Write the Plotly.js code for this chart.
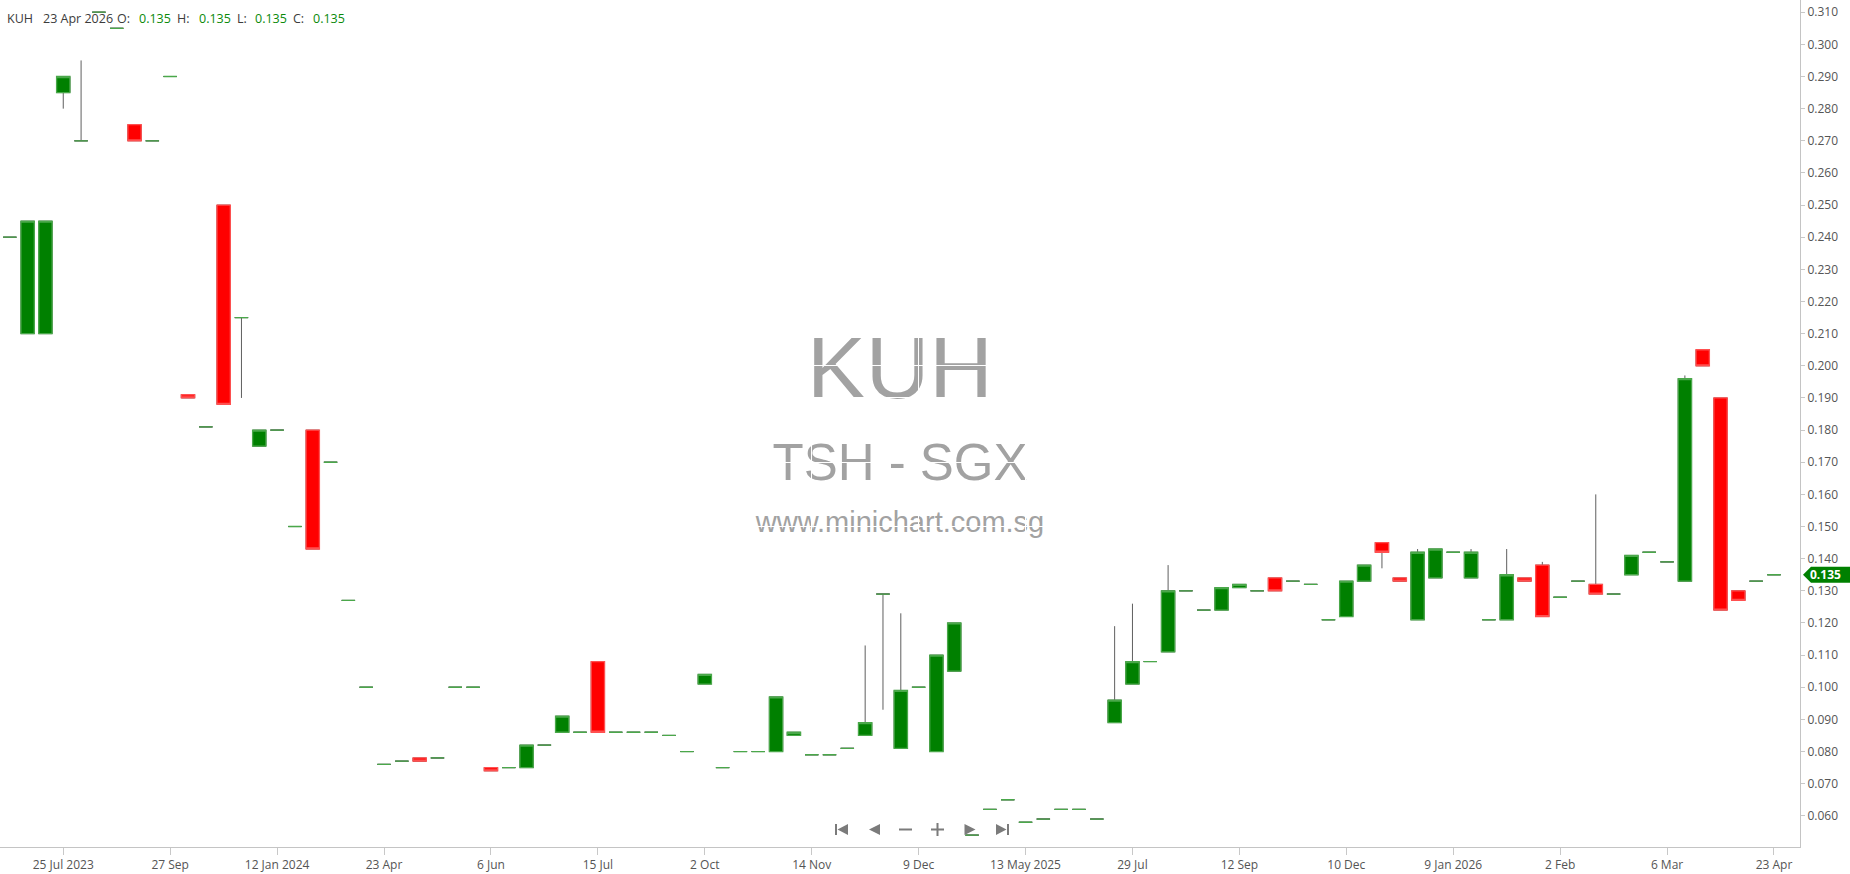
<!DOCTYPE html>
<html>
<head>
<meta charset="utf-8">
<script src="https://cdn.plot.ly/plotly-3.0.1.min.js"></script>
<style>
html,body{margin:0;padding:0;background:#fff;}
#chart{width:1850px;height:874px;}
</style>
</head>
<body>
<div id="chart"></div>
<script>
// ---------------- data ----------------
const symbol = 'KUH';
const exchangeLabel = 'TSH - SGX';
const siteLabel = 'www.minichart.com.sg';
const lastDate = '23 Apr 2026';

const tickLabels = ['25 Jul 2023','27 Sep','12 Jan 2024','23 Apr','6 Jun','15 Jul','2 Oct','14 Nov','9 Dec',
  '13 May 2025','29 Jul','12 Sep','10 Dec','9 Jan 2026','2 Feb','6 Mar','23 Apr'];

const open = [0.240,0.210,0.210,0.285,0.270,0.310,0.305,0.275,0.270,0.290,
  0.191,0.181,0.250,0.215,0.175,0.180,0.150,0.180,0.170,0.127,
  0.100,0.076,0.077,0.078,0.078,0.100,0.100,0.075,0.075,0.075,
  0.082,0.086,0.086,0.108,0.086,0.086,0.086,0.085,0.080,0.101,
  0.075,0.080,0.080,0.080,0.085,0.079,0.079,0.081,0.085,0.129,
  0.081,0.100,0.080,0.105,0.054,0.062,0.065,0.058,0.059,0.062,
  0.062,0.059,0.089,0.101,0.108,0.111,0.130,0.124,0.124,0.131,
  0.130,0.134,0.133,0.132,0.121,0.122,0.133,0.145,0.134,0.121,
  0.134,0.142,0.134,0.121,0.121,0.134,0.138,0.128,0.133,0.132,
  0.129,0.135,0.142,0.139,0.133,0.205,0.190,0.130,0.133,0.135];
const high = [0.240,0.245,0.245,0.290,0.295,0.310,0.305,0.275,0.270,0.290,
  0.191,0.181,0.250,0.215,0.180,0.180,0.150,0.180,0.170,0.127,
  0.100,0.076,0.077,0.078,0.078,0.100,0.100,0.075,0.075,0.082,
  0.082,0.091,0.086,0.108,0.086,0.086,0.086,0.085,0.080,0.104,
  0.075,0.080,0.080,0.097,0.086,0.079,0.079,0.081,0.113,0.129,
  0.123,0.100,0.110,0.120,0.054,0.062,0.065,0.058,0.059,0.062,
  0.062,0.059,0.119,0.126,0.108,0.138,0.130,0.124,0.131,0.132,
  0.130,0.134,0.133,0.132,0.121,0.133,0.138,0.145,0.134,0.143,
  0.143,0.142,0.143,0.121,0.143,0.134,0.139,0.128,0.133,0.160,
  0.129,0.141,0.142,0.139,0.197,0.205,0.190,0.130,0.133,0.135];
const low = [0.240,0.210,0.210,0.280,0.270,0.310,0.305,0.270,0.270,0.290,
  0.190,0.181,0.188,0.190,0.175,0.180,0.150,0.143,0.170,0.127,
  0.100,0.076,0.077,0.077,0.078,0.100,0.100,0.074,0.075,0.075,
  0.082,0.086,0.086,0.086,0.086,0.086,0.086,0.085,0.080,0.101,
  0.075,0.080,0.080,0.080,0.085,0.079,0.079,0.081,0.085,0.093,
  0.081,0.100,0.080,0.105,0.054,0.062,0.065,0.058,0.059,0.062,
  0.062,0.059,0.089,0.101,0.108,0.111,0.130,0.124,0.124,0.131,
  0.130,0.130,0.133,0.132,0.121,0.122,0.133,0.137,0.133,0.121,
  0.134,0.142,0.134,0.121,0.121,0.133,0.122,0.128,0.133,0.129,
  0.129,0.135,0.142,0.139,0.133,0.200,0.124,0.127,0.133,0.135];
const close = [0.240,0.245,0.245,0.290,0.270,0.310,0.305,0.270,0.270,0.290,
  0.190,0.181,0.188,0.215,0.180,0.180,0.150,0.143,0.170,0.127,
  0.100,0.076,0.077,0.077,0.078,0.100,0.100,0.074,0.075,0.082,
  0.082,0.091,0.086,0.086,0.086,0.086,0.086,0.085,0.080,0.104,
  0.075,0.080,0.080,0.097,0.086,0.079,0.079,0.081,0.089,0.129,
  0.099,0.100,0.110,0.120,0.054,0.062,0.065,0.058,0.059,0.062,
  0.062,0.059,0.096,0.108,0.108,0.130,0.130,0.124,0.131,0.132,
  0.130,0.130,0.133,0.132,0.121,0.133,0.138,0.142,0.133,0.142,
  0.143,0.142,0.142,0.121,0.135,0.133,0.122,0.128,0.133,0.129,
  0.129,0.141,0.142,0.139,0.196,0.200,0.124,0.127,0.133,0.135];

// ---------------- build ----------------
const idx = open.map((_, i) => i);
const upIdx = idx.filter(i => close[i] >= open[i]);
const dnIdx = idx.filter(i => close[i] < open[i]);
const pick = (arr, ids) => ids.map(i => arr[i]);
const bodyTop = idx.map(i => Math.max(open[i], close[i]));
const bodyBot = idx.map(i => Math.min(open[i], close[i]));
const last = idx.length - 1;
const fmt = v => v.toFixed(3);

const GREEN = '#008000', RED = '#ff0000';

function styleBoth(lineColor, fill, w) {
  const s = {line: {color: lineColor, width: w}, fillcolor: fill};
  return {increasing: s, decreasing: JSON.parse(JSON.stringify(s))};
}

const wickTrace = Object.assign({
  type: 'candlestick', x: idx, open: open, high: high, low: low, close: close,
  whiskerwidth: 0, hoverinfo: 'skip', showlegend: false, name: 'wick'
}, styleBoth('#5f5f5f', '#5f5f5f', 1));

function bodyTrace(ids, fill, edge, name) {
  return Object.assign({
    type: 'candlestick', x: ids,
    open: pick(open, ids), high: pick(bodyTop, ids), low: pick(bodyBot, ids), close: pick(close, ids),
    whiskerwidth: 0, showlegend: false, name: name
  }, styleBoth(edge, fill, 1.3));
}

const traces = [
  wickTrace,
  bodyTrace(upIdx, GREEN, '#4aa84a', 'up'),
  bodyTrace(dnIdx, RED, '#ff5050', 'down')
];

const PLOT_W = 1800, PLOT_H = 847;
const px2x = p => p / PLOT_W;
const px2y = p => 1 - p / PLOT_H;

const tickFont = {family: 'Open Sans, Noto Sans, sans-serif', size: 12, color: '#555555'};

// watermark as shape labels below the (white) grid
function wm(text, size, cy, h) {
  return {
    type: 'rect', xref: 'paper', yref: 'paper', layer: 'below',
    x0: 0, x1: 1, y0: px2y(cy + h / 2), y1: px2y(cy - h / 2),
    line: {width: 0}, fillcolor: 'rgba(0,0,0,0)',
    label: {text: text, textposition: 'middle center',
      font: {family: 'Liberation Sans, Arial, sans-serif', size: size, color: '#a2a2a2'}}
  };
}

// navigation icons (decoration)
const NAV_Y = 829.5, NAV_C = '#7b7b7b';
function navIcon(cx, path) {
  return {type: 'path', xref: 'paper', yref: 'paper', xsizemode: 'pixel', ysizemode: 'pixel',
    xanchor: px2x(cx), yanchor: px2y(NAV_Y), path: path, fillcolor: NAV_C, line: {width: 0}, layer: 'above'};
}
const shapes = [
  wm(symbol, 88, 359.5, 110),
  wm(exchangeLabel, 51, 457.5, 70),
  wm(siteLabel, 29, 518.5, 44),
  navIcon(842, 'M -7,-5.5 L -5,-5.5 L -5,5.5 L -7,5.5 Z M -4.5,0 L 6,5.5 L 6,-5.5 Z'),
  navIcon(874.5, 'M -5.5,0 L 5.5,5.5 L 5.5,-5.5 Z'),
  navIcon(905.5, 'M -6.5,-1 L 6.5,-1 L 6.5,1 L -6.5,1 Z'),
  navIcon(937.5, 'M -6.5,-1 L -1,-1 L -1,-6.5 L 1,-6.5 L 1,-1 L 6.5,-1 L 6.5,1 L 1,1 L 1,6.5 L -1,6.5 L -1,1 L -6.5,1 Z'),
  navIcon(970, 'M 5.5,0 L -5.5,5.5 L -5.5,-5.5 Z'),
  navIcon(1002, 'M 5,-5.5 L 7,-5.5 L 7,5.5 L 5,5.5 Z M 4.5,0 L -6,5.5 L -6,-5.5 Z'),
  // last price marker
  {type: 'path', xref: 'paper', yref: 'y', xsizemode: 'pixel', ysizemode: 'pixel',
    xanchor: 1, yanchor: close[last],
    path: 'M 3,0 L 11,8 L 52,8 L 52,-8 L 11,-8 Z', fillcolor: GREEN, line: {width: 0}, layer: 'above'}
];

const hdrY = px2y(18.5);
const hdrFont = (c) => ({family: 'Open Sans, Noto Sans, sans-serif', size: 12.5, color: c});
const LBL = '#3c3c3c', VAL = '#0a8a0a';
const header = [
  [symbol, 5.5, LBL], [lastDate, 42, LBL],
  ['O:', 116, LBL], [fmt(open[last]), 138, VAL],
  ['H:', 176, LBL], [fmt(high[last]), 197.5, VAL],
  ['L:', 235.5, LBL], [fmt(low[last]), 254, VAL],
  ['C:', 291.5, LBL], [fmt(close[last]), 312, VAL]
];
const annotations = header.map(h => ({
  xref: 'paper', yref: 'paper', x: px2x(h[1]), y: hdrY, xanchor: 'left', yanchor: 'middle',
  text: h[0], showarrow: false, font: hdrFont(h[2]), borderpad: 0
}));
annotations.push({
  xref: 'paper', yref: 'y', x: 1, y: close[last], xanchor: 'left', yanchor: 'middle', xshift: 9,
  text: '<b>' + fmt(close[last]) + '</b>', showarrow: false, borderpad: 0,
  font: {family: 'Open Sans, Noto Sans, sans-serif', size: 12, color: '#ffffff'}
});

const layout = {
  width: 1850, height: 874,
  margin: {l: 0, r: 50, t: 0, b: 27, pad: 0},
  paper_bgcolor: '#ffffff', plot_bgcolor: '#ffffff',
  showlegend: false, dragmode: false,
  boxgap: 0.25, boxgroupgap: 0,
  xaxis: {
    type: 'linear', range: [-0.55, 100.46], rangeslider: {visible: false},
    tickmode: 'array', tickvals: tickLabels.map((_, k) => 3 + 6 * k), ticktext: tickLabels,
    ticks: 'outside', ticklen: 7, tickwidth: 1, tickcolor: '#c8c8c8',
    showline: true, linecolor: '#c4c4c4', linewidth: 1,
    showgrid: true, gridcolor: '#ffffff', gridwidth: 1, zeroline: false,
    tickfont: tickFont, fixedrange: true
  },
  yaxis: {
    side: 'right', range: [0.0503, 0.3138], tick0: 0, dtick: 0.01, tickformat: '.3f',
    ticks: 'outside', ticklen: 4, tickwidth: 1, tickcolor: '#c8c8c8',
    showline: true, linecolor: '#c4c4c4', linewidth: 1,
    showgrid: true, gridcolor: '#ffffff', gridwidth: 1, zeroline: false,
    tickfont: tickFont, fixedrange: true
  },
  shapes: shapes,
  annotations: annotations
};

Plotly.newPlot('chart', traces, layout, {displayModeBar: false, staticPlot: true});
</script>
</body>
</html>
